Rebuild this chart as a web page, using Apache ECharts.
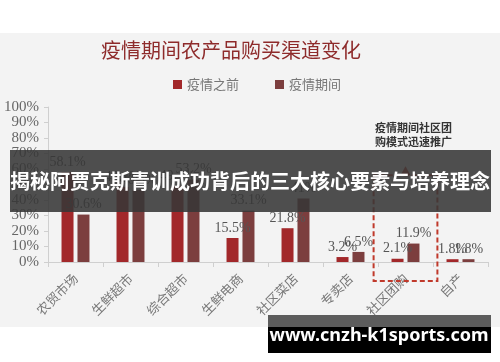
<!DOCTYPE html>
<html><head><meta charset="utf-8">
<script src="https://cdn.jsdelivr.net/npm/echarts@6/dist/echarts.min.js"></script>
<style>html,body{margin:0;padding:0;background:#fff}#c{width:500px;height:362px}</style>
</head><body><div id="c"></div>
<script>
const categories = ['农贸市场','生鲜超市','综合超市','生鲜电商','社区菜店','专卖店','社区团购','自产'];
const beforeVals = [58.1, 48.4, 49.1, 15.5, 21.8, 3.2, 2.1, 1.8];
const duringVals = [30.6, 46.5, 53.2, 33.1, 41.0, 6.5, 11.9, 1.8];
const yTicks = [0,10,20,30,40,50,60,70,80,90,100];
const seriesNames = ['疫情之前','疫情期间'];
const titleText = '疫情期间农产品购买渠道变化';
const noteLines = ['疫情期间社区团','购模式迅速推广'];
const bannerText = '揭秘阿贾克斯青训成功背后的三大核心要素与培养理念';
const siteText = 'www.cnzh-k1sports.com';

const chart = echarts.init(document.getElementById('c'), null, {renderer:'canvas'});
const serif = 'Liberation Serif';
const cjk = 'Noto Sans CJK SC';
const lbl = {show:true, position:'top', distance:3, formatter: p => p.value + '%', color:'#555', fontFamily: serif, fontSize:14};
const baseGraphic = [
  {type:'rect', z:-10, shape:{x:0,y:33,width:500,height:294}, style:{fill:'#f3f3f3'}, silent:true}
];
chart.setOption({
  backgroundColor:'#ffffff',
  animation:false,
  title:{text:titleText, left:226, top:35, textAlign:'center',
    textStyle:{color:'#8e2b2b', fontFamily:cjk, fontSize:20, fontWeight:'normal'}},
  legend:{data:seriesNames, top:73, left:168, itemWidth:9, itemHeight:9, itemGap:36, icon:'rect',
    textStyle:{color:'#777', fontFamily:cjk, fontSize:13}},
  grid:{left:48, right:12, top:107, bottom:100, containLabel:false},
  xAxis:{type:'category', data:categories,
    axisLine:{lineStyle:{color:'#cfcfcf'}},
    axisTick:{show:true, length:5, lineStyle:{color:'#cfcfcf'}},
    axisLabel:{rotate:45, color:'#777', fontFamily:cjk, fontSize:13, margin:14, interval:0}},
  yAxis:{type:'value', min:0, max:100, interval:10,
    axisLine:{show:true, lineStyle:{color:'#cfcfcf'}},
    axisTick:{show:true, length:4, lineStyle:{color:'#cfcfcf'}},
    splitLine:{show:false},
    axisLabel:{formatter:'{value}%', color:'#666', fontFamily:serif, fontSize:15, margin:9}},
  series:[
    {name:seriesNames[0], type:'bar', data:beforeVals, barWidth:12, barGap:'33%', itemStyle:{color:'#a2282a'}, label:lbl},
    {name:seriesNames[1], type:'bar', data:duringVals, barWidth:12, barGap:'33%', itemStyle:{color:'#7c3e3e'}, label:lbl}
  ],
  graphic: baseGraphic
});

// annotation box around 社区团购, positioned from the axis scales
const cx = chart.convertToPixel({xAxisIndex:0}, categories[6]);
const half = chart.convertToPixel({xAxisIndex:0}, categories[1]) - chart.convertToPixel({xAxisIndex:0}, categories[0]);
const y0 = chart.convertToPixel({yAxisIndex:0}, 0);
const yTop = chart.convertToPixel({yAxisIndex:0}, 56);
const bx1 = cx - half*0.58, bx2 = cx + half*0.58, by2 = y0 + 19;
const dash = {stroke:'#c0392b', lineWidth:2, lineDash:[5,3]};
const overlay = [
  {type:'polyline', z:50, shape:{points:[[bx1,yTop],[bx1,by2],[bx2,by2],[bx2,yTop],[bx1,yTop]]}, style:Object.assign({fill:null}, dash)},
  {type:'polygon', z:50, shape:{points:[[cx-5,yTop],[cx+5,yTop],[cx,yTop-9]]}, style:{fill:'#c0392b'}},
  {type:'text', z:50, x:cx+8, y:yTop-54, style:{text:noteLines.join('\n'), fill:'#333', font:'bold 11px '+cjk, textAlign:'center', lineHeight:14}},
  {type:'rect', z:100, shape:{x:10,y:150,width:481,height:62}, style:{fill:'rgba(55,55,55,0.88)'}},
  {type:'text', z:101, x:250, y:181, style:{text:bannerText, fill:'#fff', font:'bold 20px '+cjk, textAlign:'center', textVerticalAlign:'middle'}},
  {type:'rect', z:100, shape:{x:268,y:315,width:223,height:12}, style:{fill:'#5c5c5c'}},
  {type:'rect', z:100, shape:{x:268,y:327,width:223,height:26}, style:{fill:'#000'}},
  {type:'text', z:101, x:379, y:336, style:{text:siteText, fill:'#fff', font:'bold 18px Noto Sans', textAlign:'center', textVerticalAlign:'middle'}}
];
chart.setOption({graphic: baseGraphic.concat(overlay)});
</script></body></html>
